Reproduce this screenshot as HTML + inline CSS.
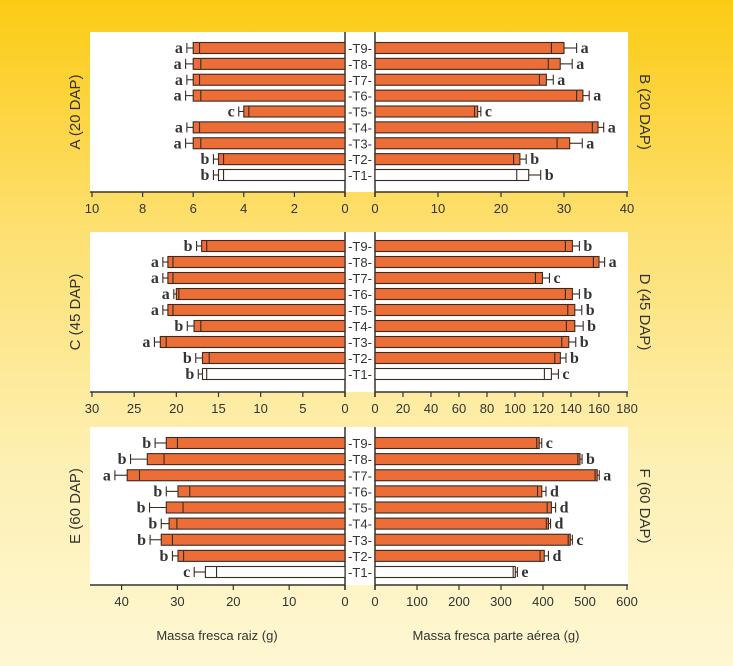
<!DOCTYPE html>
<html><head><meta charset="utf-8">
<style>
html,body{margin:0;padding:0;}
body{width:733px;height:666px;overflow:hidden;background:linear-gradient(180deg,#fccb14 0%,#fde072 35%,#fdf0b4 70%,#fef7d2 100%);font-family:"Liberation Sans",sans-serif;}
svg{display:block}
</style></head>
<body>
<svg id="chart" width="733" height="666" xmlns="http://www.w3.org/2000/svg"></svg>
<script>
const categories = ["T9","T8","T7","T6","T5","T4","T3","T2","T1"];
const aMean = [6,6,6,6,4,6,6,5,5];
const aErr = [0.25,0.3,0.25,0.3,0.2,0.25,0.3,0.2,0.2];
const aLetters = ["a","a","a","a","c","a","a","b","b"];
const aTicks = [10,8,6,4,2,0];
const bMean = [30,29.4,27.2,33,16.3,35.4,30.9,23,24.4];
const bErr = [2,1.9,1.1,1,0.5,0.9,2,1,1.9];
const bLetters = ["a","a","a","a","c","a","a","b","b"];
const bTicks = [0,10,20,30,40];
const cMean = [17,21,21,20,21,17.9,21.9,16.9,16.9];
const cErr = [0.6,0.6,0.6,0.3,0.6,0.8,0.7,0.8,0.5];
const cLetters = ["b","a","a","a","a","b","a","b","b"];
const cTicks = [30,25,20,15,10,5,0];
const dMean = [141,160,119.6,141,142.7,142.7,138.4,132.4,126];
const dErr = [5,4,5,5,5,6,5,4,5];
const dLetters = ["b","a","c","b","b","b","b","b","c"];
const dTicks = [0,20,40,60,80,100,120,140,160,180];
const eMean = [32,35.4,39,29.9,32,31.5,32.9,29.9,25];
const eErr = [2,3,2.2,2.1,3,1.4,2,1,2];
const eLetters = ["b","b","a","b","b","b","b","b","c"];
const eTicks = [40,30,20,10,0];
const fMean = [391,488,529,397,420,413,465,403,334];
const fErr = [6,5,5,10,10,5,5,10,5];
const fLetters = ["c","b","a","d","d","d","c","d","e"];
const fTicks = [0,100,200,300,400,500,600];

const NS="http://www.w3.org/2000/svg";
const svg=document.getElementById('chart');
function mk(tag,attrs,parent){const e=document.createElementNS(NS,tag);for(const k in attrs)e.setAttribute(k,attrs[k]);(parent||svg).appendChild(e);return e;}

function panel(id, side, rows, mean, err, letters, ticks, max, title){
  const g=mk('g',{});
  
  
  const left = side==='L';
  const x0 = left?90:345, x1 = left?345:628;
  const zero = left?345:375;
  const full = left?(345-92):(627-375);
  const sx = v => left ? zero - v/max*full : zero + v/max*full;
  const bg=mk('rect',{x:x0,y:rows.top,width:x1-x0,height:rows.axis-rows.top,fill:'#fff'},g);
  
  
  mk('line',{x1:zero,y1:rows.top,x2:zero,y2:rows.axis+5,stroke:'#333','stroke-width':1.5},g);
  mk('line',{x1:left?90:375,y1:rows.axis,x2:left?345:628,y2:rows.axis,stroke:'#333','stroke-width':1.5},g);
  ticks.forEach(t=>{
    const x=sx(t);
    mk('line',{x1:x,y1:rows.axis,x2:x,y2:rows.axis+5,stroke:'#333','stroke-width':1.2},g);
    const tx=mk('text',{x:x,y:rows.axis+21,'text-anchor':'middle','font-size':13,fill:'#333'},g);
    tx.textContent=t;
    
    
  });
  const step=(rows.last-rows.first)/(categories.length-1);
  categories.forEach((c,i)=>{
    const y=rows.first+i*step;
    const v=mean[i], e=err[i];
    const xe=sx(v);
    const bar=mk('rect',{x:Math.min(zero,xe),y:y-5.5,width:Math.abs(xe-zero),height:11,fill:c==='T1'?'#fff':'#ec6d36',stroke:'#3a2a22','stroke-width':1.1},g);
    
    
    const xi=sx(v-e), xo=sx(v+e);
    mk('line',{x1:xi,y1:y-5,x2:xi,y2:y+5,stroke:'#3a2a22','stroke-width':1.1},g);
    mk('line',{x1:xe,y1:y,x2:xo,y2:y,stroke:'#3a2a22','stroke-width':1.1},g);
    mk('line',{x1:xo,y1:y-5,x2:xo,y2:y+5,stroke:'#3a2a22','stroke-width':1.1},g);
    const lt=mk('text',{x:left?xo-4:xo+4,y:y+5,'text-anchor':left?'end':'start','font-size':16,'font-weight':'bold','font-family':'"Liberation Serif",serif',fill:'#333'},g);
    lt.textContent=letters[i];
    
    
  });
  if(left){
    categories.forEach((c,i)=>{
      const y=rows.first+i*step;
      const cl=mk('text',{x:360,y:y+5,'text-anchor':'middle','font-size':13,fill:'#333'},svg);
      cl.textContent='-'+c+'-';
      
      
    });
  }
  const cy=(rows.top+rows.axis)/2;
  const tx= left?80:640;
  const tt=mk('text',{x:tx,y:cy,'text-anchor':'middle','font-size':15,fill:'#333',transform:'rotate('+(left?-90:90)+' '+tx+' '+cy+')'},g);
  tt.textContent=title;
  
  
}
const r1={top:32,axis:192,first:48,last:175};
const r2={top:232,axis:392,first:246,last:374};
const r3={top:427,axis:585,first:443,last:572};
panel('b','R',r1,bMean,bErr,bLetters,bTicks,40,'B (20 DAP)');
panel('a','L',r1,aMean,aErr,aLetters,aTicks,10,'A (20 DAP)');
panel('d','R',r2,dMean,dErr,dLetters,dTicks,180,'D (45 DAP)');
panel('c','L',r2,cMean,cErr,cLetters,cTicks,30,'C (45 DAP)');
panel('f','R',r3,fMean,fErr,fLetters,fTicks,600,'F (60 DAP)');
panel('e','L',r3,eMean,eErr,eLetters,eTicks,45.3,'E (60 DAP)');
const xl1=mk('text',{x:217,y:640,'text-anchor':'middle','font-size':13,fill:'#333'});
xl1.textContent='Massa fresca raiz (g)';


const xl2=mk('text',{x:496,y:640,'text-anchor':'middle','font-size':13,fill:'#333'});
xl2.textContent='Massa fresca parte aérea (g)';


</script>
</body></html>
